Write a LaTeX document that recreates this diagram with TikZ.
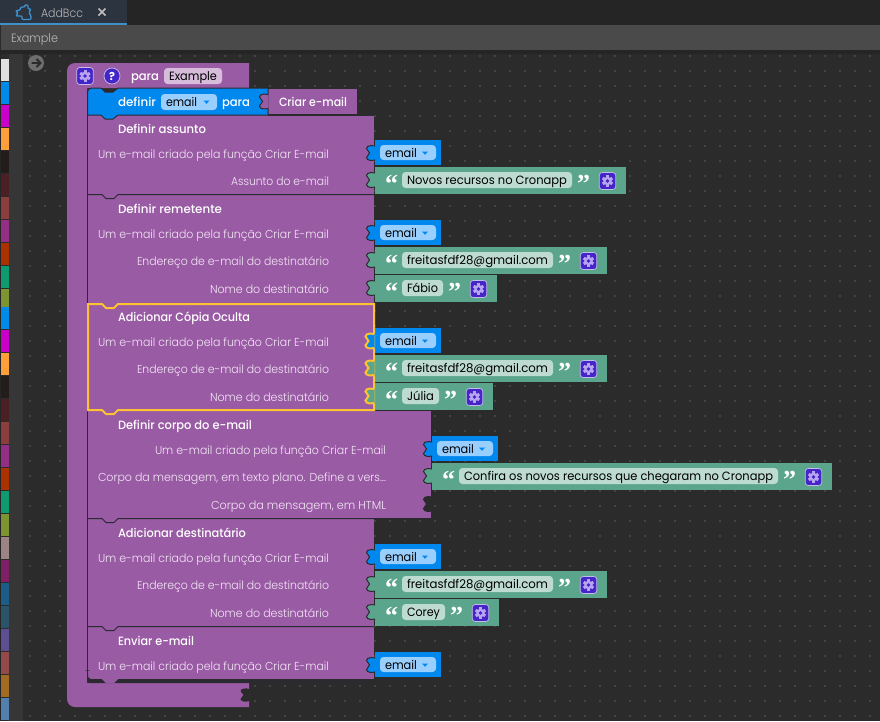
\documentclass[tikz,border=0pt]{standalone}
\usepackage{fontspec}
\usepackage{graphicx}
\setmainfont{Poppins}
\newfontfamily\lightf{Poppins Light}
\newfontfamily\medf{Poppins Medium}
\newfontfamily\quotef{Liberation Serif}[BoldFont=* Bold]
\definecolor{canvas}{HTML}{2B2B2B}
\definecolor{strip}{HTML}{363636}
\definecolor{tabbar}{HTML}{252525}
\definecolor{tabcol}{HTML}{2C3440}
\definecolor{tabline}{HTML}{3F8FC8}
\definecolor{titlebar}{HTML}{4A4A4A}
\definecolor{griddot}{HTML}{444444}
\definecolor{purp}{HTML}{9A5BA5}
\definecolor{purpf}{HTML}{D7BDDB}
\definecolor{blueb}{HTML}{0088EE}
\definecolor{bluef}{HTML}{99CFFF}
\definecolor{greenb}{HTML}{5BA58C}
\definecolor{greenf}{HTML}{BDDBD1}
\definecolor{selorange}{HTML}{FCC232}
\definecolor{edge}{HTML}{2A2A30}
\definecolor{gearbg}{HTML}{4325C8}
\definecolor{gearfg}{HTML}{B9A4F2}
\definecolor{gearln}{HTML}{C4BCE8}
\definecolor{lbl}{HTML}{F3E8F5}
\tikzset{
  txt/.style={inner sep=0pt,outer sep=0pt,anchor=base west},
  edgeline/.style={draw=edge,line width=1pt},
  gearbox/.style={fill=gearbg,draw=gearln,line width=.7pt,rounded corners=3pt,minimum width=16.5pt,minimum height=17pt,inner sep=0pt},
  field/.style={rounded corners=3.5pt},
  quotemark/.style={inner sep=0pt,text=white,font=\quotef\bfseries\fontsize{26}{26}\selectfont,anchor=base west},
}
% name, x0, x1, baseline, style, font+text
\newcommand{\T}[6]{\node[txt,#5] (#1) at (#2,#4) {\resizebox{\dimexpr #3pt-#2pt\relax}{\height}{#6}};}
\newcommand{\Tlabel}[5]{\T{#1}{#2}{#3}{#4}{text=lbl}{\lightf\fontsize{11.5}{12}\selectfont #5}}
\newcommand{\Ttitle}[4]{\T{#1}{118}{#2}{#3}{text=white}{\medf\fontsize{12}{12}\selectfont #4}}
\newcommand{\Tfield}[5]{\T{#1}{#2}{#3}{#4}{text=black}{\fontsize{12}{12}\selectfont #5}}
% tab at edge x, centre y, fill, stroke, width
\newcommand{\ptab}[5]{\begin{scope}[shift={(#1,#2)}]
  \path[fill=#3] (0.5,-7) .. controls (-3,-7.5) and (-8,-8) .. (-8.5,-4.5)
    .. controls (-8.7,-2.5) and (-5.5,-2.5) .. (-5.5,0)
    .. controls (-5.5,2.5) and (-8.7,2.5) .. (-8.5,4.5)
    .. controls (-8,8) and (-3,7.5) .. (0.5,7) -- cycle;
  \draw[draw=#4,line width=#5] (0,-7) .. controls (-3,-7.5) and (-8,-8) .. (-8.5,-4.5)
    .. controls (-8.7,-2.5) and (-5.5,-2.5) .. (-5.5,0)
    .. controls (-5.5,2.5) and (-8.7,2.5) .. (-8.5,4.5)
    .. controls (-8,8) and (-3,7.5) .. (0,7);
\end{scope}}
\newcommand{\gearicon}[3]{\node[gearbox] (#1) at (#2,#3) {};
  \begin{scope}[shift={(#2,#3)}]
  \foreach \a in {0,60,120}{\fill[gearfg,rotate=\a] (-1.5,-5.6) rectangle (1.5,5.6);}
  \fill[gearfg] (0,0) circle (4.3);
  \fill[gearbg] (0,0) circle (1.9);
  \end{scope}}
\newcommand{\droparrow}[2]{\fill[blueb] (#1-3,#2-1.5) -- (#1+3,#2-1.5) -- (#1,#2+1.8) -- cycle;}
\def\tabstroke{edge}\def\tabwidth{1pt}
% name, x, top
\newcommand{\emailblk}[3]{%
  \fill[blueb] (#2,#3) rectangle (#2+66,#3+25);
  \ptab{#2}{#3+13}{blueb}{\tabstroke}{\tabwidth}
  \fill[bluef,field] (#2+5,#3+5) rectangle (#2+61,#3+20);
  \Tfield{#1}{\the\numexpr#2+10\relax}{\the\numexpr#2+42\relax}{\the\numexpr#3+17\relax}{email}
  \droparrow{#2+50}{#3+13}}
% name, x, top, field end, text
\newcommand{\strblk}[5]{%
  \fill[greenb] (#2,#3) rectangle (#4+54,#3+27);
  \ptab{#2}{#3+13}{greenb}{\tabstroke}{\tabwidth}
  \node[quotemark] (#1o) at (#2+10,#3+25) {“};
  \fill[greenf,field] (#2+27,#3+5) rectangle (#4,#3+21);
  \Tfield{#1}{\the\numexpr#2+32\relax}{\the\numexpr#4-5\relax}{\the\numexpr#3+17\relax}{#5}
  \node[quotemark] (#1c) at (#4+5,#3+25) {”};
  \gearicon{#1g}{#4+35.5}{#3+14}}
\newcommand{\sep}[2]{\draw[edgeline] (87.5,#1) -- (102,#1) -- (106,#1+4) -- (114,#1+4) -- (118,#1) -- (#2,#1);}
\begin{document}
\begin{tikzpicture}[x=1pt,y=-1pt]
\useasboundingbox (0,0) rectangle (880,721);
% chrome
\fill[canvas] (0,0) rectangle (880,721);
\fill[tabbar] (0,0) rectangle (880,25);
\fill[tabcol] (0,0) rectangle (127,23);
\fill[tabline] (0,23) rectangle (127,25);
\fill[titlebar] (1,25) rectangle (880,50);
\fill[tabbar] (0,50) rectangle (880,54);
\fill[strip] (9,54) rectangle (23,721);
\fill[tabbar] (0,54) rectangle (1,721);
% grid
\foreach \x in {30,45,...,870}{\foreach \y in {56,71,...,716}{\fill[griddot] (\x-1,\y-1) rectangle (\x+1,\y+1);}}
% palette
\foreach \y/\c in {59/E0E0E0,82/008BE9,105/C800C8,128/FF9F3A,151/231C1A,174/4A2025,197/8C3E3C,220/933085,243/A93200,266/0F9A6F,289/7C9432,307/008BE9,330/C800C8,353/FF9F3A,376/231C1A,399/4A2025,422/8C3E3C,445/933085,468/A93200,491/0F9A6F,514/7C9432,537/9B8483,560/7F2066,583/1D5C86,606/2B5468,629/5E4E92,652/954A4A,675/A26A22,698/5180AE}{
  \definecolor{swatch}{HTML}{\c}\fill[swatch] (1,\y) rectangle (9,\y+22);}
% tab bar content
\draw[tabline,line width=1.4pt,line join=round,rounded corners=1pt] (21,7) -- (25,7) -- (24.5,5) -- (28,5) -- (28,9) -- (31,9) -- (29,12.5) -- (31,16) -- (31,19.5) -- (22,19.5) -- (22,16) -- (16,16) -- (18,13) -- (15.5,11) -- (20,10) -- cycle;
\T{tabtitle}{41}{83}{17}{text=white!72!black}{\lightf\fontsize{12}{12}\selectfont AddBcc}
\draw[white!75!black,line width=1.7pt] (98.5,8.5) -- (105.5,15.5) (98.5,15.5) -- (105.5,8.5);
\T{toptitle}{11}{58}{42}{text=white!72!black}{\lightf\fontsize{12}{12}\selectfont Example}
% run button
\fill[white!43!black] (36,63) circle (8);
\draw[canvas,line width=1.8pt] (31.5,63) -- (40,63) (36.5,59) -- (40.5,63) -- (36.5,67);
% outer block
\fill[purp] (75,63) -- (249,63) -- (249,88) -- (87,88) -- (87,683) -- (249,683) -- (249,707) -- (75,707) arc[start angle=90,end angle=180,radius=8] -- (67,71) arc[start angle=180,end angle=270,radius=8] -- cycle;
\begin{scope}[shift={(249,695)}]
\fill[canvas] (0.5,-6) .. controls (-3,-7) and (-8,-7) .. (-8.5,-4) .. controls (-8.7,-2) and (-5.5,-2) .. (-5.5,0) .. controls (-5.5,2) and (-8.7,2) .. (-8.5,4) .. controls (-8,7) and (-3,7) .. (0.5,6) -- cycle;
\end{scope}
\gearicon{outergear}{85}{76}
\draw[fill=gearbg,draw=gearln,line width=.7pt] (112,76) circle (8);
\node[inner sep=0pt,text=white,font=\bfseries\fontsize{11}{11}\selectfont] (helpmark) at (112,76) {?};
\T{paraA}{131}{159}{80}{text=white}{\medf\fontsize{12}{12}\selectfont para}
\fill[purpf,field] (164,68) rectangle (222,84);
\Tfield{exfield}{169}{217}{80}{Example}
% statements body
\fill[purp] (88,115) rectangle (374,303);
\fill[purp] (88,303) rectangle (374,411);
\fill[purp] (88,411) rectangle (431,519);
\fill[purp] (88,519) rectangle (374,627);
\fill[purp] (88,627) rectangle (374,679);
% end shadow
\fill[edge,rounded corners=3pt] (87,670) -- (87,683) -- (374,683) -- (374,679) -- (88,679) -- (88,670) -- cycle;
\fill[purp] (102,679) -- (106,683) -- (114,683) -- (118,679) -- cycle;
\draw[edgeline] (87.5,92) -- (87.5,678);
% definir block
\fill[purp] (268,89) rectangle (357,114);
\fill[blueb] (87.5,115) -- (87.5,92) arc[start angle=180,end angle=270,radius=4] -- (101,88) -- (105,92) -- (113,92) -- (118,88) -- (268,88) -- (268,115) -- (118,115) -- (113,119) -- (105,119) -- (101,115) -- cycle;
\draw[edgeline] (87.5,115) -- (87.5,92) arc[start angle=180,end angle=270,radius=4] -- (101,88) -- (105,92) -- (113,92) -- (118,88) -- (268,88) -- (268,115) -- (118,115) -- (113,119) -- (105,119) -- (101,115) -- cycle;
\draw[edgeline] (268,115) -- (374,115);
\ptab{268}{101.5}{purp}{edge}{1pt}
\T{defA}{118}{156}{106}{text=white}{\medf\fontsize{12}{12}\selectfont definir}
\fill[bluef,field] (161,94) rectangle (217,110);
\Tfield{defemail}{166}{197}{106}{email}
\droparrow{206.5}{102}
\T{defB}{222}{250}{106}{text=white}{\medf\fontsize{12}{12}\selectfont para}
\T{criar}{279}{347}{106}{text=white}{\medf\fontsize{12}{12}\selectfont Criar e-mail}
% separators
\sep{194.5}{374}
\sep{518.5}{431}
\sep{626.5}{374}
% Definir assunto
\Ttitle{t1}{206}{133}{Definir assunto}
\Tlabel{l11}{98}{329}{158}{Um e-mail criado pela função Criar E-mail}
\Tlabel{l12}{231}{329}{185}{Assunto do e-mail}
\emailblk{v11}{375}{140}
\strblk{v12}{375}{167}{572}{Novos recursos no Cronapp}
% Definir remetente
\Ttitle{t2}{222}{213}{Definir remetente}
\Tlabel{l21}{98}{329}{238}{Um e-mail criado pela função Criar E-mail}
\Tlabel{l22}{137}{329}{265}{Endereço de e-mail do destinatário}
\Tlabel{l23}{210}{329}{293}{Nome do destinatário}
\emailblk{v21}{375}{220}
\strblk{v22}{375}{247}{553}{freitasfdf28@gmail.com}
\strblk{v23}{375}{275}{443}{Fábio}
% Adicionar Copia Oculta (selected)
\Ttitle{t3}{250}{321}{Adicionar Cópia Oculta}
\Tlabel{l31}{98}{329}{346}{Um e-mail criado pela função Criar E-mail}
\Tlabel{l32}{137}{329}{373}{Endereço de e-mail do destinatário}
\Tlabel{l33}{210}{329}{401}{Nome do destinatário}
\emailblk{v31}{375}{328}
\strblk{v32}{375}{355}{553}{freitasfdf28@gmail.com}
\strblk{v33}{375}{383}{439}{Júlia}
\draw[selorange,line width=2pt,line join=miter] (88,304) -- (102,304) -- (106,308) -- (114,308) -- (118,304) -- (374,304) -- (374,410) -- (118,410) -- (114,414) -- (106,414) -- (102,410) -- (88,410) -- cycle;
\def\tabstroke{selorange}\def\tabwidth{2pt}
\ptab{374}{341}{blueb}{selorange}{2pt}
\ptab{374}{368}{greenb}{selorange}{2pt}
\ptab{374}{396}{greenb}{selorange}{2pt}
\def\tabstroke{edge}\def\tabwidth{1pt}
% Definir corpo
\Ttitle{t4}{252}{429}{Definir corpo do e-mail}
\Tlabel{l41}{155}{386}{454}{Um e-mail criado pela função Criar E-mail}
\Tlabel{l42}{98}{386}{481}{Corpo da mensagem, em texto plano. Define a vers...}
\Tlabel{l43}{211}{386}{509}{Corpo da mensagem, em HTML}
\emailblk{v41}{432}{436}
\strblk{v42}{432}{463}{778}{Confira os novos recursos que chegaram no Cronapp}
\ptab{432}{504}{canvas}{edge}{1pt}
% Adicionar destinatario
\Ttitle{t5}{246}{537}{Adicionar destinatário}
\Tlabel{l51}{98}{329}{562}{Um e-mail criado pela função Criar E-mail}
\Tlabel{l52}{137}{329}{589}{Endereço de e-mail do destinatário}
\Tlabel{l53}{210}{329}{617}{Nome do destinatário}
\emailblk{v51}{375}{544}
\strblk{v52}{375}{571}{553}{freitasfdf28@gmail.com}
\strblk{v53}{375}{599}{445}{Corey}
% Enviar
\Ttitle{t6}{194}{645}{Enviar e-mail}
\Tlabel{l61}{98}{329}{670}{Um e-mail criado pela função Criar E-mail}
\emailblk{v61}{375}{652}
\end{tikzpicture}
\end{document}
